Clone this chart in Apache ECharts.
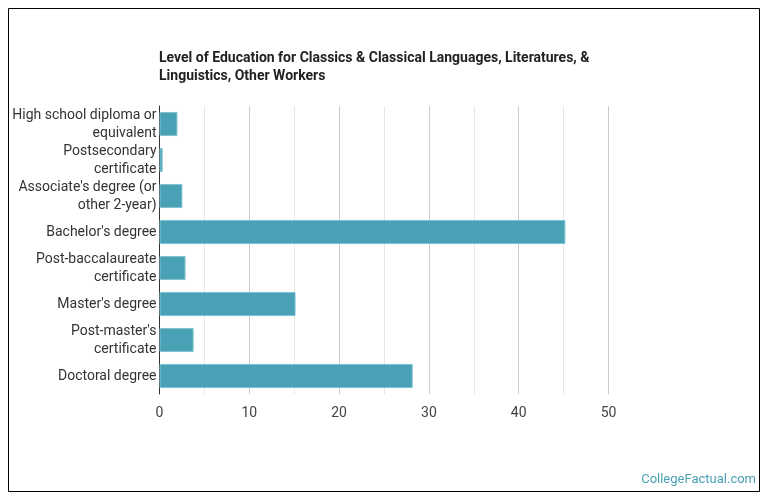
<!DOCTYPE html>
<html lang="en">
<head>
    <meta charset="UTF-8">
    <title>Level of Education</title>
    <script src="https://cdn.jsdelivr.net/npm/echarts@6/dist/echarts.min.js"></script>
    <style>
        html, body { margin: 0; padding: 0; background: #fff; }
        #main { width: 770px; height: 503px; }
    </style>
</head>
<body>
<div id="main"></div>
<script type="text/javascript">
    var categories = [
        'High school diploma or\nequivalent',
        'Postsecondary\ncertificate',
        "Associate's degree (or\nother 2-year)",
        "Bachelor's degree",
        'Post-baccalaureate\ncertificate',
        "Master's degree",
        "Post-master's\ncertificate",
        'Doctoral degree'
    ];
    var values = [2.0, 0.35, 2.55, 45.2, 2.9, 15.15, 3.8, 28.2];
    var xTicks = [0, 10, 20, 30, 40, 50];

    var myChart = echarts.init(document.getElementById('main'));

    var option = {
        backgroundColor: '#fff',
        animation: false,
        textStyle: { fontFamily: 'Roboto' },
        title: {
            text: 'Level of Education for Classics & Classical Languages, Literatures, &\nLinguistics, Other Workers',
            left: 159,
            top: 49,
            padding: 0,
            textStyle: {
                fontFamily: 'Roboto',
                fontSize: 14,
                fontWeight: 'bold',
                color: '#222',
                lineHeight: 18
            }
        },
        grid: {
            left: 159.5,
            right: 161.5,
            top: 106,
            bottom: 109,
            containLabel: false
        },
        xAxis: {
            type: 'value',
            min: 0,
            max: 50,
            interval: 5,
            axisLine: { show: false },
            axisTick: { show: false },
            axisLabel: {
                fontSize: 14,
                color: '#444',
                margin: 12,
                formatter: function (v) {
                    return xTicks.indexOf(v) >= 0 ? String(v) : '';
                }
            },
            splitLine: {
                show: true,
                lineStyle: {
                    // major lines at tens, lighter ones at fives
                    color: ['#ccc', '#e6e6e6'],
                    width: 1
                }
            }
        },
        yAxis: {
            type: 'category',
            inverse: true,
            data: categories,
            axisLine: { show: true, lineStyle: { color: '#333', width: 1 } },
            axisTick: { show: false },
            axisLabel: {
                interval: 0,
                fontSize: 14,
                color: '#333',
                lineHeight: 18,
                margin: 3,
                padding: [4, 0, 0, 0],
                align: 'right'
            }
        },
        series: [{
            name: 'Workers',
            type: 'bar',
            data: values,
            barCategoryGap: '33%',
            itemStyle: {
                color: '#4aa0b4',
                borderColor: '#7fc4d2',
                borderWidth: 1
            }
        }],
        graphic: [
            {
                type: 'rect',
                shape: { x: 8.5, y: 8.5, width: 751, height: 483 },
                style: { fill: 'none', stroke: '#000', lineWidth: 1 },
                z: 100
            },
            {
                type: 'text',
                right: 14,
                top: 473,
                style: {
                    text: 'CollegeFactual.com',
                    fill: '#4aa0b4',
                    font: '13px Roboto'
                }
            }
        ]
    };

    myChart.setOption(option);
</script>
</body>
</html>
